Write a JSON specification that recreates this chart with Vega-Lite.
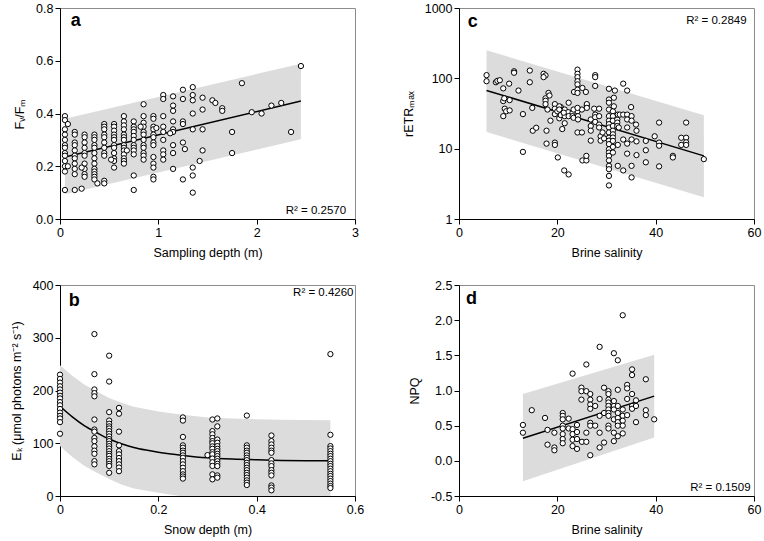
{
"$schema":"https://vega.github.io/schema/vega-lite/v6.json",
"padding":{"left":9,"top":1,"right":2,"bottom":2},
"background":"white",
"columns":2,
"spacing":{"row":18,"column":36},
"config":{
"font":"Liberation Sans",
"view":{"stroke":"#8c8c8c","strokeWidth":1},
"style":{"guide-title":{"fontWeight":"normal"}},
"axis":{"grid":false,"domainColor":"black","tickColor":"black","labelColor":"black","titleColor":"black","labelFont":"Liberation Sans","titleFont":"Liberation Sans","labelFontSize":12.5,"titleFontSize":12.5,"titleFontWeight":"normal","tickSize":5,"labelPadding":2,"labelFlush":false,"labelOverlap":false},
"axisY":{"titlePadding":9,"titleFontWeight":"normal"},
"axisX":{"titlePadding":8,"titleFontWeight":"normal"}
},
"datasets":{
"a_band":[{"x":0.05,"y":0.380,"lo":0.094},{"x":2.45,"y":0.589,"lo":0.302}],
"a_fit":[{"x":0.05,"y":0.235},{"x":2.45,"y":0.447}],
"a_pts":[
{"x":0.05,"y":0.39},{"x":0.05,"y":0.375},{"x":0.05,"y":0.34},{"x":0.05,"y":0.32},{"x":0.05,"y":0.30},{"x":0.05,"y":0.28},{"x":0.05,"y":0.27},{"x":0.05,"y":0.25},{"x":0.05,"y":0.24},{"x":0.05,"y":0.22},{"x":0.05,"y":0.20},{"x":0.05,"y":0.18},{"x":0.05,"y":0.11},
{"x":0.08,"y":0.36},{"x":0.08,"y":0.20},
{"x":0.15,"y":0.33},{"x":0.15,"y":0.32},{"x":0.15,"y":0.29},{"x":0.15,"y":0.28},{"x":0.15,"y":0.26},{"x":0.15,"y":0.24},{"x":0.15,"y":0.23},{"x":0.15,"y":0.21},{"x":0.15,"y":0.19},{"x":0.15,"y":0.17},{"x":0.15,"y":0.11},
{"x":0.25,"y":0.32},{"x":0.25,"y":0.31},{"x":0.25,"y":0.29},{"x":0.25,"y":0.27},{"x":0.25,"y":0.25},{"x":0.25,"y":0.24},{"x":0.25,"y":0.21},{"x":0.25,"y":0.19},{"x":0.25,"y":0.17},{"x":0.25,"y":0.16},
{"x":0.22,"y":0.115},{"x":0.22,"y":0.195},
{"x":0.35,"y":0.32},{"x":0.35,"y":0.31},{"x":0.35,"y":0.30},{"x":0.35,"y":0.28},{"x":0.35,"y":0.27},{"x":0.35,"y":0.25},{"x":0.35,"y":0.23},{"x":0.35,"y":0.21},{"x":0.35,"y":0.19},{"x":0.35,"y":0.18},{"x":0.35,"y":0.17},{"x":0.35,"y":0.16},{"x":0.35,"y":0.15},
{"x":0.38,"y":0.135},
{"x":0.45,"y":0.36},{"x":0.45,"y":0.35},{"x":0.45,"y":0.34},{"x":0.45,"y":0.32},{"x":0.45,"y":0.31},{"x":0.45,"y":0.29},{"x":0.45,"y":0.27},{"x":0.45,"y":0.25},{"x":0.45,"y":0.24},{"x":0.45,"y":0.145},{"x":0.45,"y":0.135},
{"x":0.55,"y":0.36},{"x":0.55,"y":0.35},{"x":0.55,"y":0.335},{"x":0.55,"y":0.32},{"x":0.55,"y":0.31},{"x":0.55,"y":0.30},{"x":0.55,"y":0.28},{"x":0.55,"y":0.27},{"x":0.55,"y":0.25},{"x":0.55,"y":0.23},{"x":0.55,"y":0.22},{"x":0.55,"y":0.195},
{"x":0.52,"y":0.225},
{"x":0.65,"y":0.39},{"x":0.65,"y":0.37},{"x":0.65,"y":0.355},{"x":0.65,"y":0.34},{"x":0.65,"y":0.32},{"x":0.65,"y":0.31},{"x":0.65,"y":0.30},{"x":0.65,"y":0.28},{"x":0.65,"y":0.27},{"x":0.65,"y":0.26},{"x":0.65,"y":0.245},{"x":0.65,"y":0.23},{"x":0.65,"y":0.22},{"x":0.65,"y":0.21},
{"x":0.68,"y":0.26},
{"x":0.75,"y":0.37},{"x":0.75,"y":0.35},{"x":0.75,"y":0.34},{"x":0.75,"y":0.33},{"x":0.75,"y":0.315},{"x":0.75,"y":0.30},{"x":0.75,"y":0.28},{"x":0.75,"y":0.27},{"x":0.75,"y":0.26},{"x":0.75,"y":0.245},{"x":0.75,"y":0.165},{"x":0.75,"y":0.11},
{"x":0.85,"y":0.435},{"x":0.85,"y":0.39},{"x":0.85,"y":0.365},{"x":0.85,"y":0.35},{"x":0.85,"y":0.33},{"x":0.85,"y":0.32},{"x":0.85,"y":0.30},{"x":0.85,"y":0.28},{"x":0.85,"y":0.27},{"x":0.85,"y":0.25},{"x":0.85,"y":0.24},{"x":0.85,"y":0.225},
{"x":0.82,"y":0.35},
{"x":0.95,"y":0.39},{"x":0.95,"y":0.38},{"x":0.95,"y":0.35},{"x":0.95,"y":0.34},{"x":0.95,"y":0.32},{"x":0.95,"y":0.31},{"x":0.95,"y":0.29},{"x":0.95,"y":0.28},{"x":0.95,"y":0.235},{"x":0.95,"y":0.21},{"x":0.95,"y":0.195},{"x":0.95,"y":0.16},{"x":0.95,"y":0.15},
{"x":0.98,"y":0.345},
{"x":1.05,"y":0.47},{"x":1.05,"y":0.455},{"x":1.05,"y":0.39},{"x":1.05,"y":0.35},{"x":1.05,"y":0.33},{"x":1.05,"y":0.30},{"x":1.05,"y":0.26},{"x":1.05,"y":0.245},{"x":1.05,"y":0.225},
{"x":1.15,"y":0.465},{"x":1.15,"y":0.43},{"x":1.15,"y":0.41},{"x":1.15,"y":0.37},{"x":1.15,"y":0.34},{"x":1.15,"y":0.33},{"x":1.15,"y":0.28},{"x":1.15,"y":0.25},{"x":1.15,"y":0.19},
{"x":1.12,"y":0.325},
{"x":1.25,"y":0.49},{"x":1.25,"y":0.455},{"x":1.25,"y":0.37},{"x":1.25,"y":0.36},{"x":1.25,"y":0.29},{"x":1.25,"y":0.15},
{"x":1.27,"y":0.265},
{"x":1.35,"y":0.50},{"x":1.35,"y":0.47},{"x":1.35,"y":0.45},{"x":1.35,"y":0.40},{"x":1.35,"y":0.34},{"x":1.35,"y":0.195},{"x":1.35,"y":0.165},{"x":1.35,"y":0.10},
{"x":1.45,"y":0.46},{"x":1.45,"y":0.415},{"x":1.45,"y":0.34},{"x":1.45,"y":0.26},
{"x":1.42,"y":0.22},
{"x":1.55,"y":0.45},{"x":1.58,"y":0.44},
{"x":1.65,"y":0.42},{"x":1.65,"y":0.41},
{"x":1.75,"y":0.33},{"x":1.75,"y":0.25},
{"x":1.85,"y":0.515},{"x":1.95,"y":0.405},{"x":2.05,"y":0.40},{"x":2.15,"y":0.43},{"x":2.25,"y":0.44},{"x":2.35,"y":0.33},{"x":2.45,"y":0.58}
],
"c_band":[{"x":5.6,"y":251,"lo":17.3},{"x":49.8,"y":29.8,"lo":2.03}],
"c_fit":[{"x":5.6,"y":67.3},{"x":49.8,"y":7.9}],
"c_pts":[
{"x":5.6,"y":111},{"x":5.6,"y":91},{"x":7.5,"y":88},{"x":7.8,"y":92},{"x":8.3,"y":94},{"x":9,"y":72},{"x":9,"y":47.5},{"x":9.2,"y":52},{"x":9.3,"y":37},{"x":9,"y":29},{"x":9.6,"y":34},{"x":10.2,"y":84},{"x":10.3,"y":49},{"x":10.3,"y":35},{"x":11.2,"y":126},{"x":11.2,"y":120},{"x":12.1,"y":67},{"x":13,"y":31},{"x":13,"y":9},{"x":14.4,"y":129},{"x":14.4,"y":88},{"x":14.9,"y":38},{"x":15,"y":18},{"x":15.7,"y":19.8},
{"x":17.2,"y":116},{"x":17.6,"y":110},{"x":17.2,"y":104},{"x":17.6,"y":52},{"x":17.6,"y":48},{"x":17.6,"y":43},{"x":17.8,"y":18},{"x":17.8,"y":11.8},{"x":18.2,"y":62},{"x":18.4,"y":57},{"x":18,"y":36},{"x":18.6,"y":25},
{"x":19.5,"y":43},{"x":19.5,"y":37},{"x":19.5,"y":31},{"x":19.5,"y":12.2},{"x":19.5,"y":11.3},{"x":20,"y":34},{"x":20.4,"y":27},{"x":20.1,"y":7.5},{"x":20.7,"y":39},{"x":21,"y":35},{"x":20.7,"y":30},{"x":21,"y":19},{"x":21.5,"y":36},{"x":21.5,"y":31},{"x":21.5,"y":23},{"x":21.5,"y":29},{"x":21.4,"y":4.9},{"x":22.3,"y":45},{"x":22.2,"y":33},{"x":22.3,"y":4.3},
{"x":20.4,"y":40},{"x":20.4,"y":36},{"x":21.3,"y":32.5},{"x":22.3,"y":29},{"x":23.1,"y":32.5},{"x":23.1,"y":29},{"x":24.1,"y":34},{"x":25,"y":36},{"x":26,"y":41},
{"x":23.3,"y":36},{"x":23.3,"y":27.5},{"x":23.4,"y":64},{"x":24.1,"y":133},{"x":24.1,"y":116},{"x":24.1,"y":104},{"x":24.1,"y":91},{"x":24.1,"y":82},{"x":24.1,"y":69},{"x":24.1,"y":62},{"x":24.1,"y":38},{"x":24.2,"y":29},{"x":24.2,"y":26},{"x":24.1,"y":17},{"x":25,"y":17},{"x":25.1,"y":73},{"x":25.1,"y":6.8},{"x":25.9,"y":6.8},{"x":25.9,"y":7.9},{"x":25.8,"y":64},{"x":26,"y":43},{"x":26,"y":38},
{"x":26.8,"y":26},{"x":26.8,"y":21},{"x":26.8,"y":18},{"x":26.8,"y":13},{"x":27.5,"y":37},{"x":28.5,"y":37},{"x":27.7,"y":111},{"x":27.7,"y":104},{"x":27.7,"y":78},{"x":27.7,"y":30.5},{"x":27.7,"y":28},{"x":27.7,"y":24},{"x":28.5,"y":29},{"x":28.5,"y":22},{"x":28.5,"y":20},{"x":28.8,"y":15},{"x":28.8,"y":13},{"x":29.2,"y":17},{"x":29.5,"y":14},
{"x":30.5,"y":71},{"x":30.5,"y":50},{"x":30.5,"y":45},{"x":30.5,"y":36},{"x":30.5,"y":29},{"x":30.5,"y":25},{"x":30.5,"y":22.3},{"x":30.5,"y":20},{"x":30.5,"y":17},{"x":30.5,"y":14.3},{"x":30.5,"y":13},{"x":30.5,"y":11.6},{"x":30.5,"y":9.8},{"x":30.5,"y":8.8},{"x":30.5,"y":7.9},{"x":30.5,"y":6.8},{"x":30.5,"y":5.7},{"x":30.5,"y":5.1},{"x":30.5,"y":4.1},{"x":30.5,"y":3.0},
{"x":31.3,"y":34},{"x":31.3,"y":29},{"x":31.3,"y":25},{"x":31.3,"y":21},{"x":31.3,"y":18},{"x":31.3,"y":16},{"x":31.3,"y":14.4},{"x":31.3,"y":12.9},{"x":31.3,"y":10.6},{"x":31.3,"y":8.8},
{"x":31.5,"y":53},{"x":31.5,"y":40},{"x":31.7,"y":67},{"x":32.2,"y":26},{"x":32.2,"y":23.5},{"x":32.2,"y":21},{"x":32.3,"y":30.5},{"x":32.7,"y":30.5},{"x":32.3,"y":11.3},{"x":32.3,"y":5.7},{"x":32.5,"y":20},
{"x":33.4,"y":84},{"x":33.4,"y":30.5},{"x":33.4,"y":13.5},{"x":33.4,"y":4.9},{"x":34.2,"y":67},{"x":34.2,"y":30.5},{"x":34.2,"y":26},{"x":34.2,"y":20},{"x":34.2,"y":11.8},{"x":34.2,"y":8.5},
{"x":35,"y":39},{"x":35.1,"y":29},{"x":35.1,"y":25},{"x":35.1,"y":13.5},{"x":35.1,"y":5.7},{"x":35.1,"y":3.9},{"x":36,"y":22},{"x":36.1,"y":18},{"x":36.1,"y":12.7},{"x":36.1,"y":8.1},
{"x":38,"y":12.9},{"x":38,"y":9.5},{"x":38,"y":6.4},{"x":39.8,"y":15},{"x":40.7,"y":23.5},{"x":40.7,"y":12.2},{"x":40.7,"y":11},{"x":40.7,"y":5.6},{"x":43.5,"y":7.9},{"x":43.5,"y":7.5},{"x":45.2,"y":14.3},{"x":45.2,"y":11.3},{"x":46.2,"y":23.5},{"x":46.2,"y":14.3},{"x":46.2,"y":12.3},{"x":46.2,"y":11.3},{"x":49.8,"y":7.1}
],
"b_band":[{"x":0,"y":248,"lo":95},{"x":0.025,"y":228,"lo":74},{"x":0.05,"y":211,"lo":57},{"x":0.075,"y":198,"lo":44},{"x":0.1,"y":186,"lo":32},{"x":0.125,"y":177,"lo":22},{"x":0.15,"y":169,"lo":14},{"x":0.2,"y":160,"lo":6},{"x":0.25,"y":154,"lo":-1},{"x":0.3,"y":149,"lo":-5},{"x":0.35,"y":147,"lo":-7},{"x":0.4,"y":145.5,"lo":-8.5},{"x":0.45,"y":144.5,"lo":-9.5},{"x":0.5,"y":144,"lo":-10},{"x":0.55,"y":143.7,"lo":-10.3}],
"b_fit":[{"x":0,"y":170},{"x":0.025,"y":150},{"x":0.05,"y":133},{"x":0.075,"y":120},{"x":0.1,"y":108},{"x":0.125,"y":99},{"x":0.15,"y":92},{"x":0.175,"y":87},{"x":0.2,"y":83},{"x":0.25,"y":77},{"x":0.3,"y":72.5},{"x":0.35,"y":70},{"x":0.4,"y":68.5},{"x":0.45,"y":67.5},{"x":0.5,"y":67},{"x":0.55,"y":66.7}],
"b_pts":[
{"x":0,"y":230},{"x":0,"y":222},{"x":0,"y":215},{"x":0,"y":208},{"x":0,"y":202},{"x":0,"y":196},{"x":0,"y":190},{"x":0,"y":185},{"x":0,"y":178},{"x":0,"y":172},{"x":0,"y":165},{"x":0,"y":158},{"x":0,"y":152},{"x":0,"y":147},{"x":0,"y":140},{"x":0,"y":118},
{"x":0.07,"y":307},{"x":0.07,"y":231},{"x":0.07,"y":202},{"x":0.07,"y":195},{"x":0.07,"y":189},{"x":0.07,"y":145},{"x":0.07,"y":126},{"x":0.07,"y":122},{"x":0.07,"y":110},{"x":0.07,"y":104},{"x":0.07,"y":94},{"x":0.07,"y":86},{"x":0.07,"y":80},{"x":0.07,"y":66},{"x":0.07,"y":60},
{"x":0.1,"y":266},{"x":0.1,"y":217},{"x":0.1,"y":159},{"x":0.1,"y":143},{"x":0.1,"y":137},{"x":0.1,"y":132},{"x":0.1,"y":128},{"x":0.1,"y":123},{"x":0.1,"y":118},{"x":0.1,"y":113},{"x":0.1,"y":108},{"x":0.1,"y":104},{"x":0.1,"y":99},{"x":0.1,"y":94.5},{"x":0.1,"y":90},{"x":0.1,"y":85},{"x":0.1,"y":80},{"x":0.1,"y":76},{"x":0.1,"y":70.5},{"x":0.1,"y":66},{"x":0.1,"y":61},{"x":0.1,"y":57},{"x":0.1,"y":44},
{"x":0.12,"y":167},{"x":0.12,"y":156},{"x":0.12,"y":122},{"x":0.12,"y":96},{"x":0.12,"y":85},{"x":0.12,"y":79},{"x":0.12,"y":72},{"x":0.12,"y":66},{"x":0.12,"y":60},{"x":0.12,"y":54},{"x":0.12,"y":47},
{"x":0.25,"y":149},{"x":0.25,"y":143},{"x":0.25,"y":112},{"x":0.25,"y":96},{"x":0.25,"y":91.5},{"x":0.25,"y":86},{"x":0.25,"y":82},{"x":0.25,"y":77},{"x":0.25,"y":72.5},{"x":0.25,"y":66},{"x":0.25,"y":60},{"x":0.25,"y":53.6},{"x":0.25,"y":47},{"x":0.25,"y":41},{"x":0.25,"y":37},{"x":0.25,"y":33},
{"x":0.30,"y":77.5},
{"x":0.31,"y":145},{"x":0.31,"y":123},{"x":0.31,"y":117},{"x":0.31,"y":110},{"x":0.31,"y":104},{"x":0.31,"y":100},{"x":0.31,"y":94},{"x":0.31,"y":89.5},{"x":0.31,"y":83},{"x":0.31,"y":79},{"x":0.31,"y":71},{"x":0.31,"y":64},{"x":0.31,"y":57},{"x":0.31,"y":41},{"x":0.31,"y":31.6},
{"x":0.32,"y":147},{"x":0.32,"y":132},{"x":0.32,"y":107},{"x":0.32,"y":101},{"x":0.32,"y":94.5},{"x":0.32,"y":89.5},{"x":0.32,"y":85},{"x":0.32,"y":80},{"x":0.32,"y":75.6},{"x":0.32,"y":70.7},{"x":0.32,"y":66},{"x":0.32,"y":61},{"x":0.32,"y":56.7},{"x":0.32,"y":39},{"x":0.32,"y":34.8},
{"x":0.38,"y":152.5},{"x":0.38,"y":96},{"x":0.38,"y":91.5},{"x":0.38,"y":86},{"x":0.38,"y":82},{"x":0.38,"y":77},{"x":0.38,"y":72.5},{"x":0.38,"y":68},{"x":0.38,"y":63},{"x":0.38,"y":58.6},{"x":0.38,"y":53.6},{"x":0.38,"y":49},{"x":0.38,"y":44},{"x":0.38,"y":39.7},{"x":0.38,"y":34.8},{"x":0.38,"y":29.7},{"x":0.38,"y":25.3},{"x":0.38,"y":20.8},
{"x":0.43,"y":114.7},{"x":0.43,"y":104},{"x":0.43,"y":97.7},{"x":0.43,"y":91.5},{"x":0.43,"y":86},{"x":0.43,"y":82},{"x":0.43,"y":68},{"x":0.43,"y":61.8},{"x":0.43,"y":56.7},{"x":0.43,"y":49},{"x":0.43,"y":44},{"x":0.43,"y":39},{"x":0.43,"y":20},{"x":0.43,"y":15.9},{"x":0.43,"y":10.8},
{"x":0.55,"y":269},{"x":0.55,"y":116},{"x":0.55,"y":94.5},{"x":0.55,"y":90},{"x":0.55,"y":85},{"x":0.55,"y":80},{"x":0.55,"y":75.6},{"x":0.55,"y":70.7},{"x":0.55,"y":66},{"x":0.55,"y":61},{"x":0.55,"y":56.7},{"x":0.55,"y":51.8},{"x":0.55,"y":47},{"x":0.55,"y":42},{"x":0.55,"y":37.8},{"x":0.55,"y":32.9},{"x":0.55,"y":28.3},{"x":0.55,"y":23.4},{"x":0.55,"y":18.9},{"x":0.55,"y":15.1}
],
"d_band":[{"x":13,"y":0.95,"lo":-0.29},{"x":39.7,"y":1.51,"lo":0.33}],
"d_fit":[{"x":13,"y":0.32},{"x":39.7,"y":0.92}],
"d_pts":[
{"x":13,"y":0.51},{"x":13,"y":0.40},{"x":14.8,"y":0.72},{"x":17.5,"y":0.61},{"x":18,"y":0.44},{"x":18,"y":0.23},{"x":19.4,"y":0.40},{"x":19.4,"y":0.19},{"x":19.4,"y":0.15},
{"x":21.1,"y":0.68},{"x":21.1,"y":0.64},{"x":21.1,"y":0.59},{"x":21.1,"y":0.50},{"x":21.1,"y":0.46},{"x":21.1,"y":0.38},{"x":21.1,"y":0.31},{"x":21.1,"y":0.25},
{"x":22.3,"y":0.60},{"x":22.3,"y":0.46},{"x":23.1,"y":1.24},{"x":23.1,"y":0.45},{"x":23.1,"y":0.38},{"x":23.1,"y":0.30},{"x":23.1,"y":0.21},
{"x":24,"y":0.51},{"x":24,"y":0.41},{"x":24,"y":0.31},{"x":24,"y":0.17},{"x":24.9,"y":1.04},{"x":24.9,"y":0.99},{"x":24.9,"y":0.87},{"x":25,"y":0.27},
{"x":25.9,"y":1.37},{"x":25.9,"y":0.99},{"x":25.9,"y":0.40},{"x":25.9,"y":0.27},
{"x":26.7,"y":0.95},{"x":26.7,"y":0.87},{"x":26.7,"y":0.80},{"x":26.7,"y":0.74},{"x":26.7,"y":0.54},{"x":26.7,"y":0.50},{"x":26.7,"y":0.08},
{"x":27.7,"y":0.78},{"x":27.7,"y":0.50},
{"x":28.6,"y":1.62},{"x":28.6,"y":0.88},{"x":28.6,"y":0.64},{"x":28.6,"y":0.40},{"x":28.6,"y":0.19},
{"x":29.5,"y":1.04},{"x":29.5,"y":0.68},{"x":29.5,"y":0.26},
{"x":30.4,"y":0.99},{"x":30.4,"y":0.95},{"x":30.4,"y":0.87},{"x":30.4,"y":0.83},{"x":30.4,"y":0.78},{"x":30.4,"y":0.73},{"x":30.4,"y":0.68},{"x":30.4,"y":0.64},{"x":30.4,"y":0.50},{"x":30.4,"y":0.46},
{"x":31.5,"y":1.53},{"x":31.5,"y":0.85},{"x":31.5,"y":0.78},{"x":31.5,"y":0.73},{"x":31.5,"y":0.59},{"x":31.5,"y":0.40},{"x":31.5,"y":0.28},
{"x":32.3,"y":1.43},{"x":32.3,"y":1.01},{"x":32.3,"y":0.78},{"x":32.3,"y":0.68},{"x":32.3,"y":0.61},{"x":32.3,"y":0.55},{"x":32.3,"y":0.50},{"x":32.3,"y":0.35},
{"x":33.3,"y":2.07},{"x":33.3,"y":0.73},{"x":33.3,"y":0.64},{"x":33.3,"y":0.57},{"x":33.3,"y":0.50},{"x":33.3,"y":0.39},
{"x":34.2,"y":1.08},{"x":34.2,"y":1.03},{"x":34.2,"y":0.88},{"x":34.2,"y":0.65},
{"x":35.2,"y":1.30},{"x":35.2,"y":1.22},{"x":35.2,"y":0.95},{"x":35.2,"y":0.78},{"x":35.2,"y":0.74},
{"x":36,"y":0.86},{"x":36,"y":0.78},{"x":36,"y":0.55},
{"x":38,"y":1.16},{"x":38,"y":0.72},{"x":38,"y":0.65},{"x":39.7,"y":0.59}
]
},
"concat":[
{
"width":295,"height":211,
"encoding":{
"x":{"field":"x","type":"quantitative","scale":{"domain":[0,3],"nice":false},"axis":{"values":[0,1,2,3],"format":"d","titleFontWeight":"normal"},"title":"Sampling depth (m)"},
"y":{"field":"y","type":"quantitative","scale":{"domain":[0,0.8],"nice":false},"axis":{"values":[0,0.2,0.4,0.6,0.8],"format":".1f","titleFontWeight":"normal"},"title":"Fᵥ/Fₘ"}
},
"layer":[
{"data":{"name":"a_band"},"mark":{"type":"area","color":"#dcdcdc","clip":true},"encoding":{"y2":{"field":"lo"}}},
{"data":{"name":"a_fit"},"mark":{"type":"line","color":"black","strokeWidth":1.5,"clip":true}},
{"data":{"name":"a_pts"},"mark":{"type":"point","shape":"circle","fill":"white","fillOpacity":1,"stroke":"black","strokeWidth":1,"size":28,"opacity":1}},
{"data":{"values":[{"x":0.11,"y":0.75,"label":"a"}]},"mark":{"type":"text","align":"left","baseline":"middle","fontSize":18,"fontWeight":"bold","font":"Liberation Sans","color":"black"},"encoding":{"text":{"field":"label"}}},
{"data":{"values":[{"x":2.91,"y":0.031,"label":"R² = 0.2570"}]},"mark":{"type":"text","align":"right","baseline":"middle","fontSize":11.5,"font":"Liberation Sans","color":"black"},"encoding":{"text":{"field":"label"}}}
]
},
{
"width":295,"height":211,
"encoding":{
"x":{"field":"x","type":"quantitative","scale":{"domain":[0,60],"nice":false},"axis":{"values":[0,20,40,60],"format":"d","titleFontWeight":"normal"},"title":"Brine salinity"},
"y":{"field":"y","type":"quantitative","scale":{"type":"log","domain":[1,1000],"nice":false},"axis":{"values":[1,10,100,1000],"format":"d","titleFontWeight":"normal"},"title":"rETRₘₐₓ"}
},
"layer":[
{"data":{"name":"c_band"},"mark":{"type":"area","color":"#dcdcdc","clip":true},"encoding":{"y2":{"field":"lo"}}},
{"data":{"name":"c_fit"},"mark":{"type":"line","color":"black","strokeWidth":1.5,"clip":true}},
{"data":{"name":"c_pts"},"mark":{"type":"point","shape":"circle","fill":"white","fillOpacity":1,"stroke":"black","strokeWidth":1,"size":28,"opacity":1}},
{"data":{"values":[{"x":1.8,"y":634,"label":"c"}]},"mark":{"type":"text","align":"left","baseline":"middle","fontSize":18,"fontWeight":"bold","font":"Liberation Sans","color":"black"},"encoding":{"text":{"field":"label"}}},
{"data":{"values":[{"x":58.5,"y":660,"label":"R² = 0.2849"}]},"mark":{"type":"text","align":"right","baseline":"middle","fontSize":11.5,"font":"Liberation Sans","color":"black"},"encoding":{"text":{"field":"label"}}}
]
},
{
"width":295,"height":211,
"encoding":{
"x":{"field":"x","type":"quantitative","scale":{"domain":[0,0.6],"nice":false},"axis":{"values":[0,0.2,0.4,0.6],"labelExpr":"datum.value == 0 ? '0' : format(datum.value, '.1f')","titleFontWeight":"normal"},"title":"Snow depth (m)"},
"y":{"field":"y","type":"quantitative","scale":{"domain":[0,400],"nice":false},"axis":{"values":[0,100,200,300,400],"format":"d","titleFontWeight":"normal"},"title":"Eₖ (μmol photons m⁻² s⁻¹)"}
},
"layer":[
{"data":{"name":"b_band"},"mark":{"type":"area","color":"#dcdcdc","clip":true},"encoding":{"y2":{"field":"lo"}}},
{"data":{"name":"b_fit"},"mark":{"type":"line","color":"black","strokeWidth":1.5,"clip":true,"interpolate":"monotone"}},
{"data":{"name":"b_pts"},"mark":{"type":"point","shape":"circle","fill":"white","fillOpacity":1,"stroke":"black","strokeWidth":1,"size":28,"opacity":1}},
{"data":{"values":[{"x":0.018,"y":370,"label":"b"}]},"mark":{"type":"text","align":"left","baseline":"middle","fontSize":18,"fontWeight":"bold","font":"Liberation Sans","color":"black"},"encoding":{"text":{"field":"label"}}},
{"data":{"values":[{"x":0.597,"y":384,"label":"R² = 0.4260"}]},"mark":{"type":"text","align":"right","baseline":"middle","fontSize":11.5,"font":"Liberation Sans","color":"black"},"encoding":{"text":{"field":"label"}}}
]
},
{
"width":295,"height":211,
"encoding":{
"x":{"field":"x","type":"quantitative","scale":{"domain":[0,60],"nice":false},"axis":{"values":[0,20,40,60],"format":"d","titleFontWeight":"normal"},"title":"Brine salinity"},
"y":{"field":"y","type":"quantitative","scale":{"domain":[-0.5,2.5],"nice":false},"axis":{"values":[-0.5,0,0.5,1,1.5,2,2.5],"labelExpr":"replace(format(datum.value, '.1f'), '−', '-')","titleFontWeight":"normal"},"title":"NPQ"}
},
"layer":[
{"data":{"name":"d_band"},"mark":{"type":"area","color":"#dcdcdc","clip":true},"encoding":{"y2":{"field":"lo"}}},
{"data":{"name":"d_fit"},"mark":{"type":"line","color":"black","strokeWidth":1.5,"clip":true}},
{"data":{"name":"d_pts"},"mark":{"type":"point","shape":"circle","fill":"white","fillOpacity":1,"stroke":"black","strokeWidth":1,"size":28,"opacity":1}},
{"data":{"values":[{"x":1.4,"y":2.3,"label":"d"}]},"mark":{"type":"text","align":"left","baseline":"middle","fontSize":18,"fontWeight":"bold","font":"Liberation Sans","color":"black"},"encoding":{"text":{"field":"label"}}},
{"data":{"values":[{"x":59.3,"y":-0.38,"label":"R² = 0.1509"}]},"mark":{"type":"text","align":"right","baseline":"middle","fontSize":11.5,"font":"Liberation Sans","color":"black"},"encoding":{"text":{"field":"label"}}}
]
}
]
}
